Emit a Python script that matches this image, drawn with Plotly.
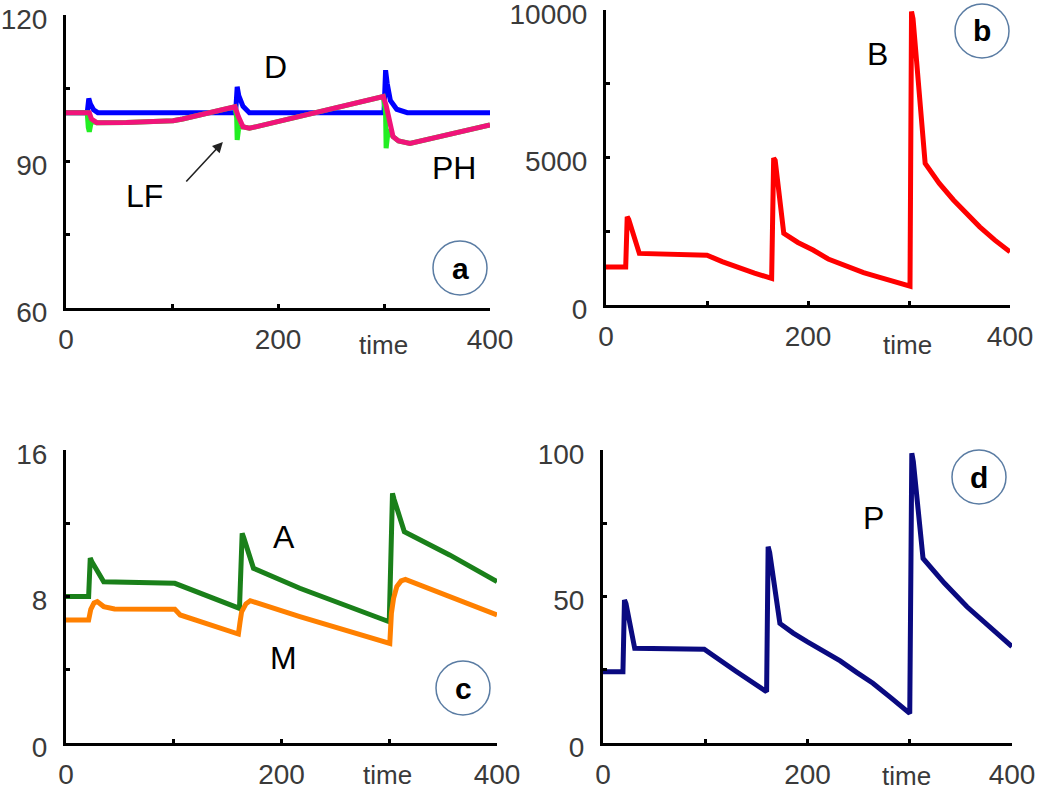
import plotly.graph_objects as go

# ---------------- data ----------------
# Panel a
D_t = [0, 20, 21.5, 23, 26, 30, 100, 160, 161.5, 163, 167, 173, 300, 301.5, 303, 306, 312, 322, 400]
D_v = [100, 100, 102.9, 101.8, 100.6, 100, 100, 100, 105.3, 103.5, 101.3, 100, 100, 108.7, 106, 102.5, 100.7, 100, 100]

LF_t = [0, 20, 21, 22, 23.5, 25, 29, 57, 101, 110, 159.4, 161, 161.5, 163, 167, 173, 299.3, 301.5, 302, 304, 308.5, 313.7, 324.5, 400]
LF_v = [100, 100, 97, 96.1, 97.8, 98.2, 97.95, 98.0, 98.35, 98.7, 101.2, 99, 94.4, 97, 97.1, 96.8, 103.3, 100, 92.7, 96.5, 95.1, 94.2, 93.7, 97.5]

PH_t = [0, 22, 24, 29, 57, 101, 110, 159.4, 162.6, 167, 173, 299.3, 302, 304.6, 308.5, 313.7, 324.5, 400]
PH_v = [100, 100, 98.7, 97.95, 98.0, 98.35, 98.7, 101.2, 99.2, 97.1, 96.8, 103.3, 101.5, 98.5, 95.1, 94.2, 93.7, 97.5]

# Panel b
B_t = [0, 19.5, 21, 22.5, 33, 60, 100, 115, 130, 147, 164, 166, 167.5, 176, 190, 205, 220, 238, 255, 271, 286, 301, 302.5, 304, 316, 330, 344, 357, 370, 385, 400]
B_v = [1290, 1290, 2990, 2900, 1750, 1730, 1690, 1470, 1280, 1080, 900, 4980, 4900, 2430, 2120, 1864, 1560, 1300, 1100, 938, 780, 640, 9950, 9700, 4800, 4120, 3560, 3080, 2650, 2200, 1800]

# Panel c
A_t = [0, 21, 22.5, 24, 35, 60, 101, 161, 163.5, 165, 174, 217, 263.6, 300, 303, 304.5, 314, 356, 400]
A_v = [8.0, 8.0, 10.1, 9.9, 8.8, 8.75, 8.72, 7.35, 11.45, 11.2, 9.54, 8.45, 7.44, 6.62, 13.63, 13.3, 11.54, 10.27, 8.81]

M_t = [0, 21, 23, 26, 29, 35, 45, 101, 106, 124, 160, 161.5, 163, 167, 171, 217, 263.6, 300.5, 302, 304, 307, 311, 315, 356, 400]
M_v = [6.72, 6.72, 7.3, 7.65, 7.72, 7.45, 7.32, 7.3, 6.99, 6.62, 5.95, 6.6, 7.17, 7.6, 7.77, 6.9, 6.08, 5.44, 7.08, 7.9, 8.54, 8.85, 8.93, 7.99, 6.99]

# Panel d
P_t = [0, 19.5, 21, 22.5, 31, 60, 99, 130, 160, 161.5, 163, 173, 186, 200, 216, 232, 248, 264, 282, 300, 302, 303.5, 313, 334, 356, 378, 400]
P_v = [24.3, 24.3, 48.8, 47.5, 32.3, 32.2, 32.0, 24.5, 17.5, 67, 65, 40.8, 37.5, 34.5, 31.2, 28.0, 24.1, 20.4, 15.3, 10.1, 98.9, 96, 63, 54.5, 46.5, 39.5, 32.9]

# Axis ticks
x_tickvals = [0, 100, 200, 300, 400]
x_ticktext = ["0", "", "200", "", "400"]
ya_tickvals = [60, 75, 90, 105, 120]
ya_ticktext = ["60", "", "90", "", "120"]
yb_tickvals = [0, 2500, 5000, 7500, 10000]
yb_ticktext = ["0", "", "5000", "", "10000"]
yc_tickvals = [0, 4, 8, 12, 16]
yc_ticktext = ["0", "", "8", "", "16"]
yd_tickvals = [0, 25, 50, 75, 100]
yd_ticktext = ["0", "", "50", "", "100"]

# ---------------- figure ----------------
W, H = 1050, 790
FONT = "Liberation Sans, Arial, sans-serif"

def px_x(p):
    return p / W

def px_y(p):
    return 1 - p / H

fig = go.Figure()

def add_line(x, y, color, width, xa, ya):
    fig.add_trace(go.Scatter(x=x, y=y, mode="lines", xaxis=xa, yaxis=ya,
                             line=dict(color=color, width=width),
                             showlegend=False, hoverinfo="skip"))

add_line(D_t, D_v, "#0000ff", 5, "x", "y")
add_line(LF_t, LF_v, "#22ee22", 5, "x", "y")
add_line(PH_t, PH_v, "#f0147a", 5, "x", "y")
add_line(B_t, B_v, "#ff0000", 5, "x2", "y2")
add_line(A_t, A_v, "#1a801a", 5, "x3", "y3")
add_line(M_t, M_v, "#ff8000", 5, "x3", "y3")
add_line(P_t, P_v, "#0a0a80", 5, "x4", "y4")

tickfont = dict(family=FONT, size=28, color="#3a3a3a")

def xaxis(domain, anchor):
    return dict(domain=domain, anchor=anchor, range=[0, 400], showline=True,
                linecolor="black", linewidth=3, showgrid=False, zeroline=False,
                ticks="inside", ticklen=4, tickwidth=3, tickcolor="black",
                tickvals=x_tickvals, ticktext=x_ticktext, tickfont=tickfont,
                ticklabelstandoff=4, ticklabeloverflow="allow",
                fixedrange=True, automargin=False)

def yaxis(domain, anchor, rng, tv, tt):
    return dict(domain=domain, anchor=anchor, range=rng, showline=True,
                linecolor="black", linewidth=3, showgrid=False, zeroline=False,
                ticks="inside", ticklen=4, tickwidth=3, tickcolor="black",
                tickvals=tv, ticktext=tt, tickfont=tickfont,
                ticklabelstandoff=10, ticklabelshift=4, ticklabeloverflow="allow",
                fixedrange=True, automargin=False)

fig.update_layout(
    width=W, height=H, margin=dict(l=0, r=0, t=0, b=0, autoexpand=False),
    paper_bgcolor="white", plot_bgcolor="white",
    xaxis=xaxis([px_x(66), px_x(490)], "y"),
    yaxis=yaxis([px_y(308), px_y(15)], "x", [60, 120], ya_tickvals, ya_ticktext),
    xaxis2=xaxis([px_x(606), px_x(1010)], "y2"),
    yaxis2=yaxis([px_y(305), px_y(10)], "x2", [0, 10000], yb_tickvals, yb_ticktext),
    xaxis3=xaxis([px_x(66), px_x(497)], "y3"),
    yaxis3=yaxis([px_y(743), px_y(450)], "x3", [0, 16], yc_tickvals, yc_ticktext),
    xaxis4=xaxis([px_x(603), px_x(1012)], "y4"),
    yaxis4=yaxis([px_y(743), px_y(450)], "x4", [0, 100], yd_tickvals, yd_ticktext),
)

ann = []
labfont = dict(family=FONT, size=32, color="black")
# series labels (data coordinates)
ann.append(dict(x=198, y=109.3, xref="x", yref="y", text="D", showarrow=False, font=labfont))
ann.append(dict(x=366, y=88.7, xref="x", yref="y", text="PH", showarrow=False, font=labfont))
ann.append(dict(x=74.5, y=82.9, xref="x", yref="y", text="LF", showarrow=False, font=labfont))
ann.append(dict(x=148, y=94.0, xref="x", yref="y", text="", showarrow=True,
                ax=-38, ay=41, arrowhead=2, arrowsize=1.3, arrowwidth=1.6, arrowcolor="#222222"))
ann.append(dict(x=269, y=8508, xref="x2", yref="y2", text="B", showarrow=False, font=labfont))
ann.append(dict(x=202, y=11.25, xref="x3", yref="y3", text="A", showarrow=False, font=labfont))
ann.append(dict(x=202, y=4.64, xref="x3", yref="y3", text="M", showarrow=False, font=labfont))
ann.append(dict(x=265, y=76.8, xref="x4", yref="y4", text="P", showarrow=False, font=labfont))

# "time" axis labels
timefont = dict(family=FONT, size=26, color="#3a3a3a")
for (cx, cy) in [(383, 345), (907, 345), (387, 775), (906, 776)]:
    ann.append(dict(x=px_x(cx), y=px_y(cy), xref="paper", yref="paper", text="time",
                    showarrow=False, font=timefont, xanchor="center", yanchor="middle"))

# panel badges
shapes = []
badgefont = dict(family=FONT, size=30, color="black")
for (letter, cx, cy) in [("a", 460, 268), ("b", 982, 31), ("c", 463, 688), ("d", 979, 477)]:
    r = 27
    shapes.append(dict(type="circle", xref="paper", yref="paper",
                       x0=px_x(cx - r), x1=px_x(cx + r), y0=px_y(cy + r), y1=px_y(cy - r),
                       line=dict(color="#5a7ca3", width=1.5)))
    ann.append(dict(x=px_x(cx), y=px_y(cy), xref="paper", yref="paper",
                    text="<b>%s</b>" % letter, showarrow=False, font=badgefont,
                    xanchor="center", yanchor="middle"))

fig.update_layout(annotations=ann, shapes=shapes)
fig.write_html("out.html", config={"displayModeBar": False},
               post_script="document.body.style.margin='0';document.body.style.overflow='hidden';")
